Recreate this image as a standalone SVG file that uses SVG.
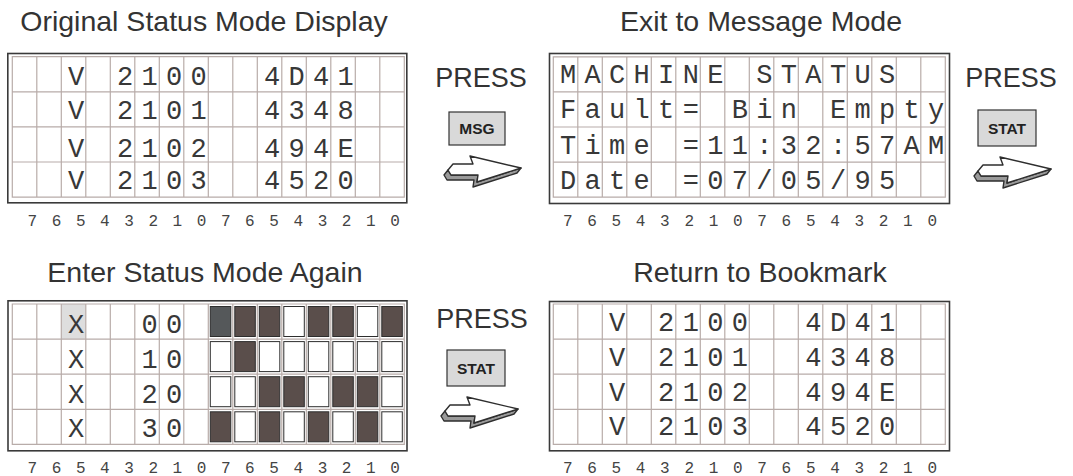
<svg xmlns="http://www.w3.org/2000/svg" xmlns:xlink="http://www.w3.org/1999/xlink" width="1073" height="476" viewBox="0 0 1073 476">
<style>
.title{font-family:"Liberation Sans",Arial,sans-serif;font-size:28.5px;fill:#333;text-anchor:middle}
.press{font-family:"Liberation Sans",Arial,sans-serif;font-size:27px;fill:#333;text-anchor:middle}
.btn{fill:#d9d9d9;stroke:#333;stroke-width:1.2}
.btntx{font-family:"Liberation Sans",Arial,sans-serif;font-size:15.5px;font-weight:bold;fill:#222;text-anchor:middle}
.frame{fill:#fff;stroke:#3a3a3a;stroke-width:1.6}
.grid{fill:none;stroke:#b8aca9;stroke-width:1.2}
.cell{font-family:"Liberation Mono","Courier New",monospace;font-size:27px;fill:#383838;text-anchor:middle}
.bits{font-family:"Liberation Mono","Courier New",monospace;font-size:16px;fill:#444;text-anchor:middle}
.on{fill:#5a4e4b;stroke:#2e2e2e;stroke-width:1}
.off{fill:#fff;stroke:#2e2e2e;stroke-width:1}
.cur{fill:#55585a;stroke:#2e2e2e;stroke-width:1}
.aface{fill:#fff;stroke:#2e2e2e;stroke-width:1.4;stroke-linejoin:round}
.aside{fill:#9a9a9a;stroke:#2e2e2e;stroke-width:1.4;stroke-linejoin:round}
</style>
<defs>
<path id="grid" class="grid" d="M0,0H392V140.4H0Z M24.5,0V140.4 M49,0V140.4 M73.5,0V140.4 M98,0V140.4 M122.5,0V140.4 M147,0V140.4 M171.5,0V140.4 M196,0V140.4 M220.5,0V140.4 M245,0V140.4 M269.5,0V140.4 M294,0V140.4 M318.5,0V140.4 M343,0V140.4 M367.5,0V140.4 M0,35.1H392 M0,70.2H392 M0,105.3H392"/>
<g id="arrow">
<path class="aside" d="M5,14 L1,19 L4,24 L31,24 L30,31 L74,17 L78,12 L34,26 L35,19 L8,19 Z"/>
<path class="aface" d="M10,8 L30,8 L27,0 L78,12 L34,26 L35,19 L8,19 L5,14 Z"/>
</g>
</defs>
<rect width="1073" height="476" fill="#fff"/>

<g id="panel1">
<text class="title" x="204" y="31">Original Status Mode Display</text>
<rect class="frame" x="7.8" y="53.5" width="399" height="149.3"/>
<use xlink:href="#grid" href="#grid" transform="translate(12.3,56.7)"/>
<text class="cell" x="76.05 125.05 149.55 174.05 198.55 272.05 296.55 321.05 345.55" y="85">V21004D41</text>
<text class="cell" x="76.05 125.05 149.55 174.05 198.55 272.05 296.55 321.05 345.55" y="118.5">V21014348</text>
<text class="cell" x="76.05 125.05 149.55 174.05 198.55 272.05 296.55 321.05 345.55" y="156.5">V2102494E</text>
<text class="cell" x="76.05 125.05 149.55 174.05 198.55 272.05 296.55 321.05 345.55" y="188.5">V21034520</text>
<text class="bits" x="32.3 56.5 80.7 104.8 129 153.2 177.4 201.6 225.7 249.9 274.1 298.3 322.5 346.6 370.8 395" y="225.5">7654321076543210</text>
</g>

<g id="panel2">
<text class="title" x="761" y="31">Exit to Message Mode</text>
<rect class="frame" x="549.5" y="53.5" width="400" height="150"/>
<use xlink:href="#grid" href="#grid" transform="translate(553.3,56.8)"/>
<text class="cell" x="568.05 592.59 617.13 641.67 666.21 690.75 715.29 764.37 788.91 813.45 837.99 862.53 887.07" y="83">MACHINESTATUS</text>
<text class="cell" x="568.05 592.59 617.13 641.67 666.21 690.75 739.83 764.37 788.91 837.99 862.53 887.07 911.61 936.15" y="117.5">Fault=BinEmpty</text>
<text class="cell" x="568.05 592.59 617.13 641.67 690.75 715.29 739.83 764.37 788.91 813.45 837.99 862.53 887.07 911.61 936.15" y="153.5">Time=11:32:57AM</text>
<text class="cell" x="568.05 592.59 617.13 641.67 690.75 715.29 739.83 764.37 788.91 813.45 837.99 862.53 887.07" y="188.5">Date=07/05/95</text>
<text class="bits" x="567.7 592 616.3 640.6 664.9 689.2 713.5 737.8 762.1 786.4 810.7 835 859.3 883.6 907.9 932.2" y="226">7654321076543210</text>
</g>

<g id="panel3">
<text class="title" x="205" y="282">Enter Status Mode Again</text>
<rect class="frame" x="8" y="300.8" width="399" height="150"/>
<g transform="translate(12.3,304)">
<rect x="49" y="0" width="24.5" height="35.1" fill="#dedede"/>
<use xlink:href="#grid" href="#grid"/>
<rect class="cur" x="198" y="2.5" width="20.5" height="30"/>
<rect class="on" x="222.5" y="2.5" width="20.5" height="30"/>
<rect class="on" x="247" y="2.5" width="20.5" height="30"/>
<rect class="off" x="271.5" y="2.5" width="20.5" height="30"/>
<rect class="on" x="296" y="2.5" width="20.5" height="30"/>
<rect class="on" x="320.5" y="2.5" width="20.5" height="30"/>
<rect class="off" x="345" y="2.5" width="20.5" height="30"/>
<rect class="on" x="369.5" y="2.5" width="20.5" height="30"/>
<rect class="off" x="198" y="37.6" width="20.5" height="30"/>
<rect class="on" x="222.5" y="37.6" width="20.5" height="30"/>
<rect class="off" x="247" y="37.6" width="20.5" height="30"/>
<rect class="off" x="271.5" y="37.6" width="20.5" height="30"/>
<rect class="off" x="296" y="37.6" width="20.5" height="30"/>
<rect class="off" x="320.5" y="37.6" width="20.5" height="30"/>
<rect class="off" x="345" y="37.6" width="20.5" height="30"/>
<rect class="off" x="369.5" y="37.6" width="20.5" height="30"/>
<rect class="off" x="198" y="72.7" width="20.5" height="30"/>
<rect class="off" x="222.5" y="72.7" width="20.5" height="30"/>
<rect class="on" x="247" y="72.7" width="20.5" height="30"/>
<rect class="on" x="271.5" y="72.7" width="20.5" height="30"/>
<rect class="off" x="296" y="72.7" width="20.5" height="30"/>
<rect class="on" x="320.5" y="72.7" width="20.5" height="30"/>
<rect class="on" x="345" y="72.7" width="20.5" height="30"/>
<rect class="off" x="369.5" y="72.7" width="20.5" height="30"/>
<rect class="on" x="198" y="107.8" width="20.5" height="30"/>
<rect class="off" x="222.5" y="107.8" width="20.5" height="30"/>
<rect class="on" x="247" y="107.8" width="20.5" height="30"/>
<rect class="off" x="271.5" y="107.8" width="20.5" height="30"/>
<rect class="on" x="296" y="107.8" width="20.5" height="30"/>
<rect class="off" x="320.5" y="107.8" width="20.5" height="30"/>
<rect class="on" x="345" y="107.8" width="20.5" height="30"/>
<rect class="off" x="369.5" y="107.8" width="20.5" height="30"/>
</g>
<text class="cell" x="76.05 149.55 174.05" y="333">X00</text>
<text class="cell" x="76.05 149.55 174.05" y="368">X10</text>
<text class="cell" x="76.05 149.55 174.05" y="403">X20</text>
<text class="cell" x="76.05 149.55 174.05" y="436.5">X30</text>
<text class="bits" x="32.3 56.5 80.7 104.8 129 153.2 177.4 201.6 225.7 249.9 274.1 298.3 322.5 346.6 370.8 395" y="473">7654321076543210</text>
</g>

<g id="panel4">
<text class="title" x="760" y="282">Return to Bookmark</text>
<rect class="frame" x="549.5" y="301.5" width="400" height="149.3"/>
<use xlink:href="#grid" href="#grid" transform="translate(553.3,304)"/>
<text class="cell" x="617.13 666.21 690.75 715.29 739.83 813.45 837.99 862.53 887.07" y="331">V21004D41</text>
<text class="cell" x="617.13 666.21 690.75 715.29 739.83 813.45 837.99 862.53 887.07" y="366">V21014348</text>
<text class="cell" x="617.13 666.21 690.75 715.29 739.83 813.45 837.99 862.53 887.07" y="401">V2102494E</text>
<text class="cell" x="617.13 666.21 690.75 715.29 739.83 813.45 837.99 862.53 887.07" y="434.5">V21034520</text>
<text class="bits" x="567.7 592 616.3 640.6 664.9 689.2 713.5 737.8 762.1 786.4 810.7 835 859.3 883.6 907.9 932.2" y="473">7654321076543210</text>
</g>

<g id="step1">
<text class="press" x="481" y="87">PRESS</text>
<rect class="btn" x="449" y="112" width="56" height="33"/>
<text class="btntx" x="477" y="134">MSG</text>
</g>
<g id="step2">
<text class="press" x="1011" y="87">PRESS</text>
<rect class="btn" x="978" y="110" width="58" height="36"/>
<text class="btntx" x="1007" y="133.5">STAT</text>
</g>
<g id="step3">
<text class="press" x="482" y="328">PRESS</text>
<rect class="btn" x="447" y="350" width="58" height="36"/>
<text class="btntx" x="476" y="373.5">STAT</text>
</g>

<g id="connectors">
<use xlink:href="#arrow" href="#arrow" transform="translate(443,156)"/>
<use xlink:href="#arrow" href="#arrow" transform="translate(973,157)"/>
<use xlink:href="#arrow" href="#arrow" transform="translate(440,397)"/>
</g>
</svg>
